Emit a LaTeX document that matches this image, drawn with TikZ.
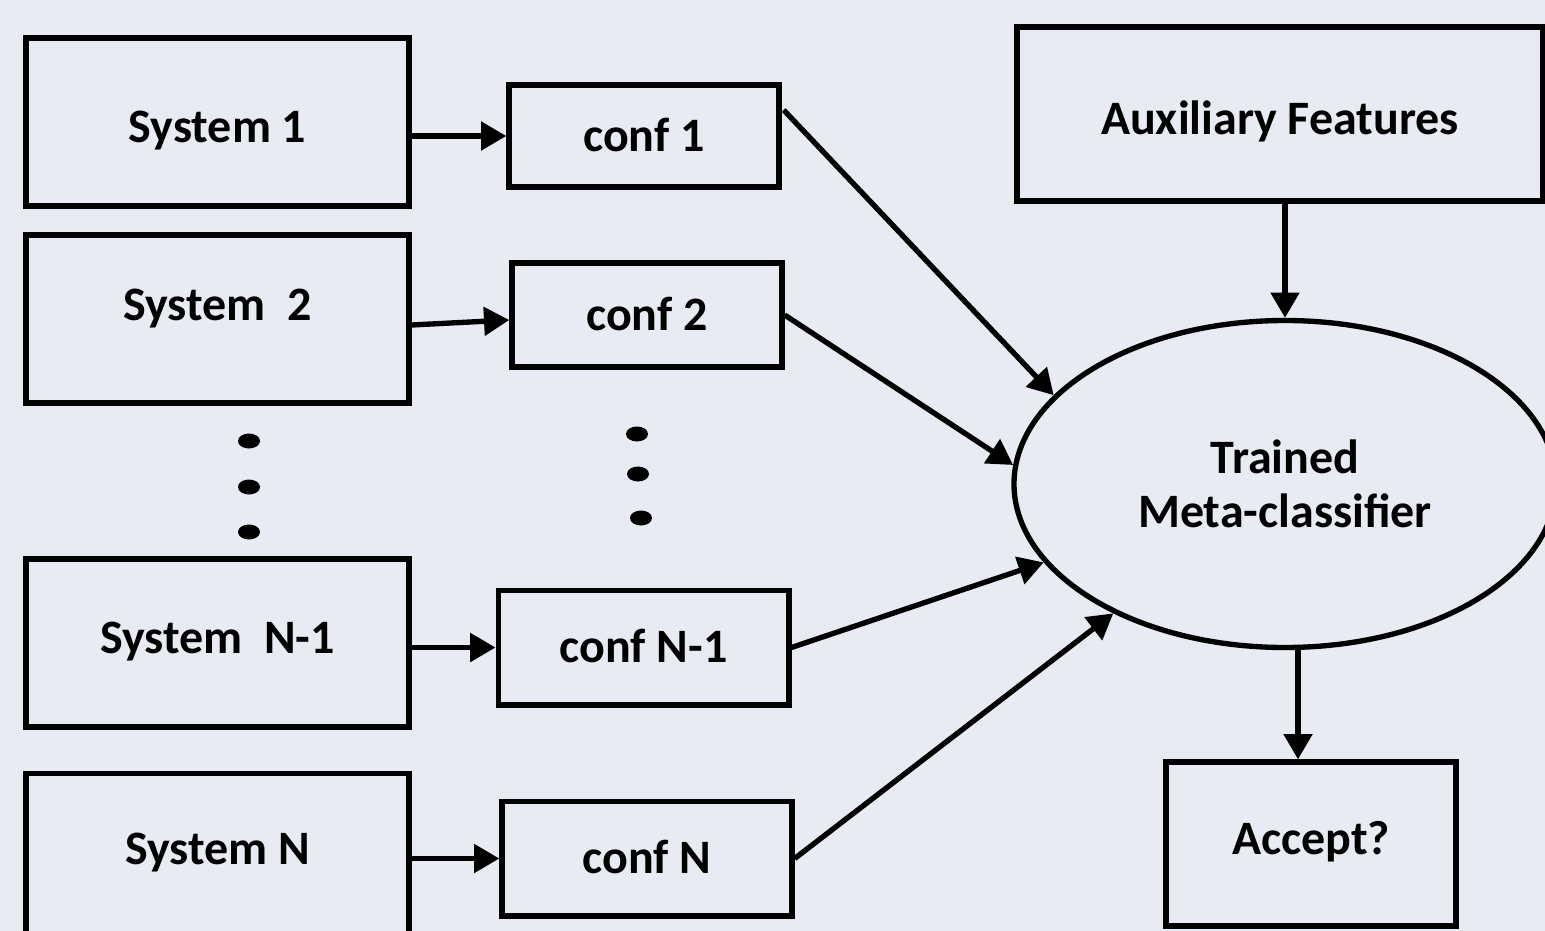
\documentclass[tikz,border=0pt]{standalone}
\usepackage{fontspec}
\setmainfont{Carlito}
\usetikzlibrary{arrows.meta,shapes.geometric,calc}
\definecolor{bgcol}{RGB}{232,235,242}

\tikzset{every picture/.style={line width=4pt}}
\tikzset{
  boxtext/.style={font=\bfseries\fontsize{36}{40.5}\selectfont},
  plainbox/.style={draw, boxtext, inner sep=0pt, text height=23pt, text depth=0pt},
  sysbox/.style={plainbox, minimum width=287.25pt, minimum height=126pt},
  confbox/.style={plainbox, minimum width=202.5pt, minimum height=76.5pt},
  arr/.style={-{Triangle[length=19pt,width=21pt]}},
}

\begin{document}
\begin{tikzpicture}[x=0.75pt,y=0.75pt,yscale=-1,xscale=1]
\useasboundingbox (0,0) rectangle (1545,931);
\fill [bgcol] (0,0) rectangle (1545,931);
\clip (0,0) rectangle (1545,931);

% Systems
\draw (217.5,122) node (sys1) [sysbox, text height=30.5pt] {System 1};
\draw (217.5,319) node (sys2) [sysbox, text depth=21pt] {System\ \ 2};
\draw (217.5,643) node (sysn1) [sysbox, text depth=7.5pt] {System\ \ N-1};
\draw (217.5,857.5) node (sysn) [sysbox, text depth=12pt] {System N};

% Confidences
\draw (644,136) node (conf1) [confbox] {conf 1};
\draw (647,315) node (conf2) [confbox, minimum height=78pt] {conf 2};
\draw (643.5,647.5) node (confn1) [confbox, minimum width=218pt, minimum height=86pt] {conf N-1};
\draw (647,858.5) node (confn) [confbox, minimum width=217.5pt, minimum height=86pt] {conf N};

% Meta-classifier side
\draw (1280,114) node (aux) [plainbox, minimum width=394.5pt, minimum height=130.5pt, text height=31.25pt] {Auxiliary Features};
\draw (1285,484) node (meta) [ellipse, draw, boxtext, inner sep=0pt, minimum width=406.5pt, minimum height=245.25pt, align=center] {Trained\\Meta-classifier};
\draw (1311,844) node (accept) [plainbox, minimum width=217.5pt, minimum height=123pt, text depth=7.5pt] {Accept?};

%Dots
\foreach \y in {441,487,532} \fill (249,\y) ellipse [x radius=11, y radius=7.5];
\fill (637,434) ellipse [x radius=11, y radius=7.5];
\fill (638,474) ellipse [x radius=11, y radius=7.5];
\fill (641,518) ellipse [x radius=11, y radius=7.5];

%Straight Lines
\draw [arr] (sys1.east |- conf1.west) -- (conf1.west);
\draw [arr] ($(sys2.east)+(0,6)$) -- ($(conf2.west)+(0,5)$);
\draw [arr] (sysn1.east |- confn1.west) -- (confn1.west);
\draw [arr] (sysn.east |- confn.west) -- (confn.west);

\draw [arr] ($(conf1.east)+(2,-26)$) -- (meta.159.5);
\draw [arr] (conf2.east) -- (meta.176);
\draw [arr] (confn1.east) -- (meta.198.7);
\draw [arr] (confn.east) -- (meta.217.7);

\draw [arr] (aux.south -| meta.north) -- (meta.north);
\draw [arr] ($(meta.south)+(13,0)$) -- ($(accept.north)+(-13,0)$);

\end{tikzpicture}
\end{document}
